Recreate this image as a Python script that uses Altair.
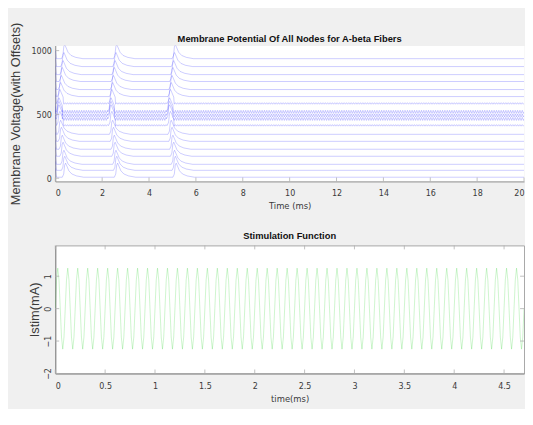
import altair as alt
import pandas as pd
import numpy as np

# ---------------- Top panel data ----------------
offsets = [8, 62, 109, 172, 227, 289, 344, 414, 465, 492, 520, 586, 640, 695, 758, 812, 875, 937]
osc_amp = [0, 0, 0, 0, 0, 0, 0, 6, 12, 12, 12, 6, 0, 0, 0, 0, 0, 0]
delays = [0.28, 0.245, 0.21, 0.175, 0.14, 0.105, 0.07, 0.035, 0.0, 0.0, 0.0,
          0.035, 0.07, 0.105, 0.14, 0.175, 0.21, 0.245]
volleys = [0.08, 2.3, 4.8]
spike_rel = [-0.06, 0.0, 0.04, 0.08, 0.14, 0.22, 0.35, 0.55, 0.85]
spike_amp = [0, 25, 95, 110, 85, 50, 25, 10, 0]
osc_spike_end = 0.22                  # oscillating nodes return to the band sooner
start_jump = 70
osc_pattern = [0, 1, 0, -1]          # one 0.1 ms stimulation cycle, 0.025 ms steps
t_end_top = 20.0

top_title = ["Membrane Potential Of All Nodes for A-beta Fibers"]
top_xticks = [0, 2, 4, 6, 8, 10, 12, 14, 16, 18, 20]
top_yticks = [0, 500, 1000]

# ---------------- Bottom panel data ----------------
stim_cycle = [0.0, 0.88, 1.25, 0.88, 0.0, -0.88, -1.25, -0.88]   # one 0.1 ms cycle
stim_cycles = 47
bot_xticks = [0, 0.5, 1, 1.5, 2, 2.5, 3, 3.5, 4, 4.5]
bot_yticks = [-2, -1, 0, 1]

# ---------------- build tables ----------------
rows = []
for i, off in enumerate(offsets):
    pts = [(0.0, off + start_jump), (0.05, off)]
    windows = []
    osc = osc_amp[i] > 0
    for v in volleys:
        ts = v + delays[i]
        end = osc_spike_end if osc else spike_rel[-1]
        windows.append((ts + spike_rel[0], ts + end))
        for r, a in zip(spike_rel, spike_amp):
            if r <= end:
                pts.append((ts + r, off + a))
    if osc:
        step = 0.1 / len(osc_pattern)
        n = int(round(t_end_top / step))
        for k in range(2, n + 1):
            t = k * step
            if any(w0 <= t <= w1 for w0, w1 in windows):
                continue
            pts.append((t, off + osc_amp[i] * osc_pattern[k % len(osc_pattern)]))
    else:
        pts.append((t_end_top, off))
    pts.sort()
    for k, (t, v) in enumerate(pts):
        rows.append({"node": i, "k": k, "t": t, "v": v})
top_df = pd.DataFrame(rows)

stim_vals = stim_cycle * stim_cycles + [stim_cycle[0]]
stim_t = [k * 0.1 / len(stim_cycle) for k in range(len(stim_vals))]
bot_df = pd.DataFrame({"t": stim_t, "v": stim_vals})

LBL = "DejaVu Sans Condensed, Liberation Sans, Arial, sans-serif"
REG = "Liberation Sans, Arial, sans-serif"
LABC = "#3a3a3a"
W = 476
H1 = 138
H2 = 130

# ---------------- top chart ----------------
top_lines = alt.Chart(top_df).mark_line(
    color="#3030ff", strokeWidth=0.8, opacity=0.3, clip=True
).encode(
    x=alt.X("t:Q", scale=alt.Scale(domain=[0, 20], nice=False, zero=False),
            axis=alt.Axis(values=top_xticks, format="d", title="Time (ms)",
                          labelPadding=7, titlePadding=3, tickSize=0)),
    y=alt.Y("v:Q", scale=alt.Scale(domain=[-25, 1040], nice=False, zero=False),
            axis=alt.Axis(values=top_yticks, format="d",
                          title="Membrane Voltage(with Offsets)",
                          titleFont=REG, titleFontSize=13, titleFontWeight="normal",
                          labelPadding=4, titlePadding=9, tickSize=0)),
    detail="node:N",
    order="k:Q",
)
tdf_x = pd.DataFrame({"tick": top_xticks})
tdf_y = pd.DataFrame({"tick": top_yticks})
top_xt = alt.Chart(tdf_x).mark_rule(color="#b0b0b0", strokeWidth=0.8).encode(
    x="tick:Q", y=alt.value(H1), y2=alt.value(H1 - 4))
top_yt = alt.Chart(tdf_y).mark_rule(color="#b0b0b0", strokeWidth=0.8).encode(
    y="tick:Q", x=alt.value(0), x2=alt.value(4))
top_ttl = alt.Chart(pd.DataFrame({"label": top_title})).mark_text(
    font=REG, fontSize=9.5, fontWeight="bold", color="#111111",
    align="center", baseline="alphabetic"
).encode(text="label:N", x=alt.value(W / 2), y=alt.value(-4))

top = alt.layer(top_lines, top_xt, top_yt, top_ttl).properties(
    width=W, height=H1,
    view=alt.ViewBackground(fill="white", stroke="transparent"),
)

# ---------------- bottom chart ----------------
bot_line = alt.Chart(bot_df).mark_line(
    color="#20d020", strokeWidth=0.8, opacity=0.28, clip=True
).encode(
    x=alt.X("t:Q", scale=alt.Scale(domain=[0, 4.7], nice=False, zero=False),
            axis=alt.Axis(values=bot_xticks, format="~g", title="time(ms)",
                          labelPadding=8, titlePadding=4, tickSize=0)),
    y=alt.Y("v:Q", scale=alt.Scale(domain=[-2, 1.95], nice=False, zero=False),
            axis=alt.Axis(values=bot_yticks, format="d", title="Istim(mA)",
                          titleFont=REG, titleFontSize=13, titleFontWeight="normal",
                          labelAngle=270, labelAlign="center", labelBaseline="bottom",
                          labelPadding=3, titlePadding=2, tickSize=0)),
)
bdf_x = pd.DataFrame({"tick": bot_xticks})
bdf_y = pd.DataFrame({"tick": bot_yticks})
bot_xt1 = alt.Chart(bdf_x).mark_rule(color="#b0b0b0", strokeWidth=0.8).encode(
    x="tick:Q", y=alt.value(H2), y2=alt.value(H2 - 4))
bot_xt2 = alt.Chart(bdf_x).mark_rule(color="#b0b0b0", strokeWidth=0.8).encode(
    x="tick:Q", y=alt.value(0), y2=alt.value(4))
bot_yt1 = alt.Chart(bdf_y).mark_rule(color="#b0b0b0", strokeWidth=0.8).encode(
    y="tick:Q", x=alt.value(0), x2=alt.value(4))
bot_yt2 = alt.Chart(bdf_y).mark_rule(color="#b0b0b0", strokeWidth=0.8).encode(
    y="tick:Q", x=alt.value(W), x2=alt.value(W - 4))

bot = alt.layer(bot_line, bot_xt1, bot_xt2, bot_yt1, bot_yt2).properties(
    width=W, height=H2,
    title=alt.TitleParams("Stimulation Function", font=REG, fontSize=9.5,
                          fontWeight="bold", color="#111111", offset=5),
    view=alt.ViewBackground(fill="white", stroke="#a8a8a8", strokeWidth=1),
)

chart = alt.vconcat(top, bot, spacing=20).properties(
    background="#f0f0f0",
    padding={"left": 0, "top": 10, "right": 0, "bottom": 2},
).configure_axis(
    labelFont=LBL, labelFontSize=9, labelColor=LABC,
    titleFont=LBL, titleFontSize=9.5, titleFontWeight="normal", titleColor=LABC,
    domainColor="#8a8a8a", domainWidth=1, grid=False,
)

chart.save("out.html", embed_options={"renderer": "svg", "actions": False})
